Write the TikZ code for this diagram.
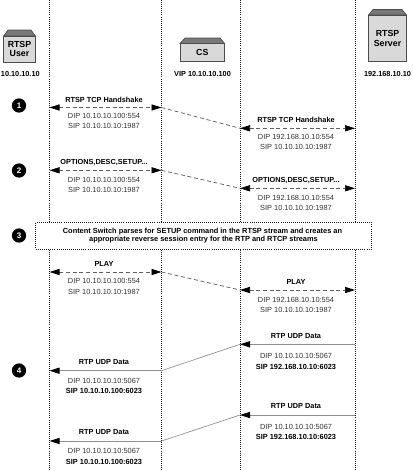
\documentclass[tikz,border=0pt]{standalone}
\usepackage{fontspec}
\setmainfont{Liberation Sans}
\usepackage{xcolor}
\usetikzlibrary{arrows.meta, positioning}
\definecolor{boxgray}{RGB}{217,217,217}
\definecolor{capgray}{RGB}{120,120,120}
\definecolor{flowgray}{RGB}{95,95,95}

\begin{document}
\begin{tikzpicture}[x=0.75pt, y=-0.75pt,
        lifeline/.style={densely dotted, line width=0.55pt, black!90},
        hostbody/.style={rectangle, draw=black!70, fill=boxgray, line width=0.5pt, inner sep=0pt, align=center, font=\fontsize{6.6}{7.4}\selectfont\bfseries},
        hostcap/.style={draw=black!70, fill=capgray, line width=0.5pt},
        addr/.style={font=\fontsize{5.5}{6.6}\selectfont\bfseries, inner sep=0pt},
        flowname/.style={font=\fontsize{5.5}{6.6}\selectfont\bfseries, inner sep=0pt},
        info/.style={font=\fontsize{5.55}{6.6}\selectfont, text=black!80, inner sep=0pt},
        infobold/.style={font=\fontsize{5.55}{6.6}\selectfont\bfseries, inner sep=0pt},
        stepdot/.style={circle, fill=black, text=white, minimum size=10.7pt, inner sep=0pt, font=\fontsize{6}{6}\selectfont\bfseries},
        session/.style={densely dashed, flowgray, line width=0.55pt},
        sessionend/.style={session, {Triangle[length=7.5pt,width=4.6pt,black]}-{Triangle[length=7.5pt,width=4.6pt,black]}},
        datain/.style={flowgray!70, line width=0.7pt, -{Triangle[length=7.5pt,width=4.6pt,black]}},
        datalink/.style={flowgray!70, line width=0.5pt}
    ]
        \useasboundingbox (0,0) rectangle (412,471);
        \fill[white] (0,0) rectangle (412,471);

        % lifelines
        \coordinate (usertop) at (49.5,0);
        \coordinate (userend) at (49.5,471);
        \coordinate (cslefttop) at (161.5,0);
        \coordinate (csleftend) at (161.5,471);
        \coordinate (csrighttop) at (240,0);
        \coordinate (csrightend) at (240,471);
        \coordinate (servertop) at (355,0);
        \coordinate (serverend) at (355,471);
        \draw[lifeline] (usertop) -- (userend);
        \draw[lifeline] (cslefttop) -- (csleftend);
        \draw[lifeline] (csrighttop) -- (csrightend);
        \draw[lifeline] (servertop) -- (serverend);

        % hosts
        \draw[hostcap] (3.6,36) -- (8,30) -- (31,30) -- (35.4,36) -- cycle;
        \node[hostbody, minimum width=23.6pt, minimum height=19.5pt] (user) at (19.5,49) {RTSP\\User};
        \draw[hostcap] (180,43.5) -- (185,38) -- (220,38) -- (224.6,43.5) -- cycle;
        \node[hostbody, minimum width=33.4pt, minimum height=13.5pt] (cs) at (202.3,52.5) {CS};
        \draw[hostcap] (368.5,15) -- (373,9.5) -- (402,9.5) -- (406.5,15) -- cycle;
        \node[hostbody, minimum width=28.5pt, minimum height=35pt] (server) at (387.5,38.3) {RTSP\\Server};
        \node[addr] (useraddr) at (20.3,74) {10.10.10.10};
        \node[addr] (csaddr) at (202.5,74) {VIP 10.10.10.100};
        \node[addr] (serveraddr) at (387.5,74) {192.168.10.10};

        % step markers
        \node[stepdot] (one) at (19,105.5) {1};
        \node[stepdot] (two) at (19,170.5) {2};
        \node[stepdot] (three) at (19,235.5) {3};
        \node[stepdot] (four) at (19,370.5) {4};

        % 1: handshake
        \coordinate (hsa) at (49.5,107.5);
        \coordinate (hsb) at (161.5,107.5);
        \coordinate (hsc) at (240,128.3);
        \coordinate (hsd) at (355,128.3);
        \draw[sessionend] (hsa) -- (hsb);
        \draw[session] (hsb) -- (hsc);
        \draw[sessionend] (hsc) -- (hsd);
        \node[flowname] (hsleft) at (104,99.5) {RTSP TCP Handshake};
        \node[info] (hsleftdip) at (104,116) {DIP 10.10.10.100:554};
        \node[info] (hsleftsip) at (104,126) {SIP 10.10.10.10:1987};
        \node[flowname] (hsright) at (296,120) {RTSP TCP Handshake};
        \node[info] (hsrightdip) at (296,136.5) {DIP 192.168.10.10:554};
        \node[info] (hsrightsip) at (296,146.5) {SIP 10.10.10.10:1987};

        % 2: options
        \coordinate (opa) at (49.5,170.3);
        \coordinate (opb) at (161.5,170.3);
        \coordinate (opc) at (240,188.3);
        \coordinate (opd) at (355,188.3);
        \draw[sessionend] (opa) -- (opb);
        \draw[session] (opb) -- (opc);
        \draw[sessionend] (opc) -- (opd);
        \node[flowname] (opleft) at (104,162.5) {OPTIONS,DESC,SETUP...};
        \node[info] (opleftdip) at (104,179.5) {DIP 10.10.10.100:554};
        \node[info] (opleftsip) at (104,190) {SIP 10.10.10.10:1987};
        \node[flowname] (opright) at (296,180.5) {OPTIONS,DESC,SETUP...};
        \node[info] (oprightdip) at (296,197.5) {DIP 192.168.10.10:554};
        \node[info] (oprightsip) at (296,207.5) {SIP 10.10.10.10:1987};

        % 3: note
        \node[rectangle, densely dotted, draw=black!90, fill=white, line width=0.55pt, minimum width=251.5pt, minimum height=20.5pt, inner sep=0pt, align=center, font=\fontsize{5.55}{6.5}\selectfont\bfseries] (note) at (203.5,235.7) {\hspace*{-1.5pt}Content Switch parses for SETUP command in the RTSP stream and creates an\\appropriate reverse session entry for the RTP and RTCP streams};

        % play
        \coordinate (pla) at (49.5,272);
        \coordinate (plb) at (161.5,272);
        \coordinate (plc) at (240,290);
        \coordinate (pld) at (355,290);
        \draw[sessionend] (pla) -- (plb);
        \draw[session] (plb) -- (plc);
        \draw[sessionend] (plc) -- (pld);
        \node[flowname] (plleft) at (104,264) {PLAY};
        \node[info] (plleftdip) at (104,281) {DIP 10.10.10.100:554};
        \node[info] (plleftsip) at (104,291.5) {SIP 10.10.10.10:1987};
        \node[flowname] (plright) at (296,282) {PLAY};
        \node[info] (plrightdip) at (296,299.5) {DIP 192.168.10.10:554};
        \node[info] (plrightsip) at (296,309.5) {SIP 10.10.10.10:1987};

        % 4: data
        \coordinate (rda) at (355,344.3);
        \coordinate (rdb) at (240,344.3);
        \coordinate (rdc) at (161.5,370.7);
        \coordinate (rdd) at (49.5,370.7);
        \draw[datain] (rda) -- (rdb);
        \draw[datalink] (rdb) -- (rdc);
        \draw[datain] (rdc) -- (rdd);
        \node[flowname] (rdright) at (296,336.5) {RTP UDP Data};
        \node[info] (rdrightdip) at (296,356) {DIP 10.10.10.10:5067};
        \node[infobold] (rdrightsip) at (296,366.5) {SIP 192.168.10.10:6023};
        \node[flowname] (rdleft) at (104,362.5) {RTP UDP Data};
        \node[info] (rdleftdip) at (104,381) {DIP 10.10.10.10:5067};
        \node[infobold] (rdleftsip) at (104,391) {SIP 10.10.10.100:6023};

        \coordinate (rea) at (355,415);
        \coordinate (reb) at (240,415);
        \coordinate (rec) at (161.5,441);
        \coordinate (red) at (49.5,441);
        \draw[datain] (rea) -- (reb);
        \draw[datalink] (reb) -- (rec);
        \draw[datain] (rec) -- (red);
        \node[flowname] (reright) at (296,406) {RTP UDP Data};
        \node[info] (rerightdip) at (296,426.5) {DIP 10.10.10.10:5067};
        \node[infobold] (rerightsip) at (296,437) {SIP 192.168.10.10:6023};
        \node[flowname] (releft) at (104,432) {RTP UDP Data};
        \node[info] (releftdip) at (104,451) {DIP 10.10.10.10:5067};
        \node[infobold] (releftsip) at (104,461.5) {SIP 10.10.10.100:6023};
    \end{tikzpicture}
\end{document}
